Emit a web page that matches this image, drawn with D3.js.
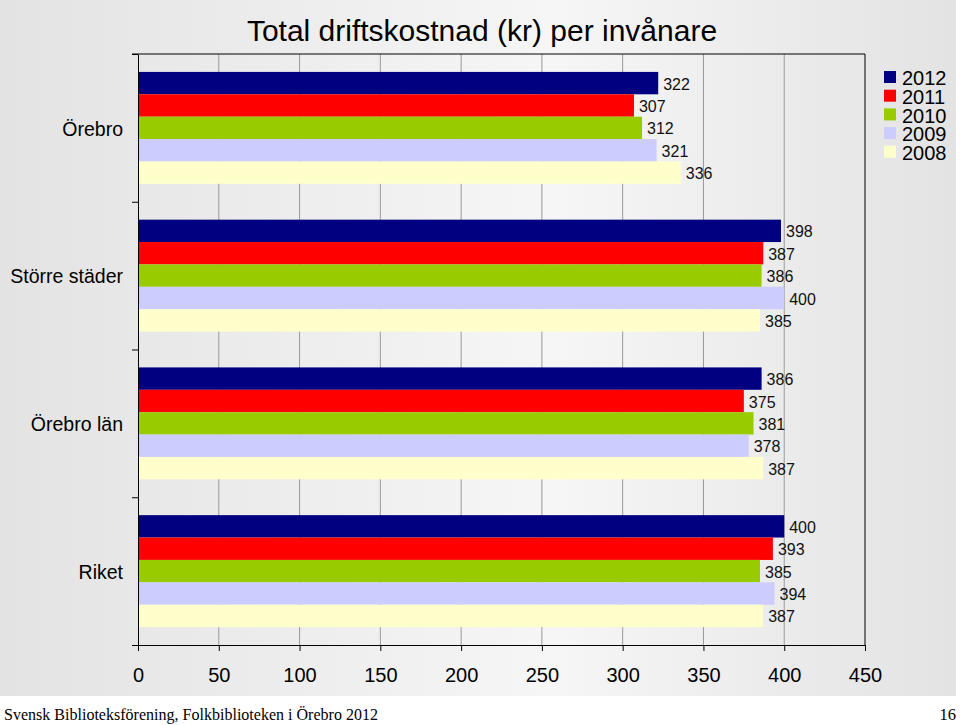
<!DOCTYPE html>
<html><head><meta charset="utf-8">
<script src="https://cdn.jsdelivr.net/npm/d3@7/dist/d3.min.js"></script>
<style>body{margin:0;padding:0;background:#fff;}svg{display:block;}</style>
</head><body><div id="chart"></div>
<script>
const categories = ["Örebro", "Större städer", "Örebro län", "Riket"];
const years = ["2012", "2011", "2010", "2009", "2008"];
const values2012 = [322, 398, 386, 400];
const values2011 = [307, 387, 375, 393];
const values2010 = [312, 386, 381, 385];
const values2009 = [321, 400, 378, 394];
const values2008 = [336, 385, 387, 387];
const xTicks = [0, 50, 100, 150, 200, 250, 300, 350, 400, 450];
const colors = ["#000080", "#ff0000", "#99cc00", "#ccccff", "#ffffcc"];
const title = "Total driftskostnad (kr) per invånare";
const footer = "Svensk Biblioteksförening, Folkbiblioteken i Örebro 2012";
const pageNo = "16";

const series = [values2012, values2011, values2010, values2009, values2008];
const W = 960, H = 725;
const svg = d3.select("#chart").append("svg").attr("width", W).attr("height", H);

const defs = svg.append("defs");
const g = defs.append("linearGradient").attr("id", "bg").attr("x1", "0").attr("x2", "1").attr("y1", "0").attr("y2", "0");
g.append("stop").attr("offset", "0%").attr("stop-color", "#e3e3e3");
g.append("stop").attr("offset", "58%").attr("stop-color", "#f6f6f6");
g.append("stop").attr("offset", "100%").attr("stop-color", "#e3e3e3");
svg.append("rect").attr("x", 0).attr("y", 0).attr("width", 956).attr("height", 696).attr("fill", "url(#bg)");

const pLeft = 138, pRight = 865, pTop = 54, pBottom = 645;
const x = d3.scaleLinear().domain([0, 450]).range([pLeft, pRight]);
const y0 = d3.scaleBand().domain(categories).range([pTop, pBottom]);
const y1 = d3.scaleBand().domain(years).range([0, y0.bandwidth()]).paddingOuter(0.8);

// gridlines
svg.append("g").selectAll("line").data(xTicks.slice(1, -1)).join("line")
  .attr("x1", d => x(d)).attr("x2", d => x(d)).attr("y1", pTop).attr("y2", pBottom)
  .attr("stroke", "#9a9a9a").attr("stroke-width", 1);

// bars
const groups = svg.append("g").selectAll("g").data(categories).join("g")
  .attr("transform", d => `translate(0,${y0(d)})`);
groups.each(function(cat, ci) {
  const sel = d3.select(this);
  years.forEach((yr, si) => {
    const v = series[si][ci];
    sel.append("rect").attr("x", x(0)).attr("y", y1(yr)).attr("width", x(v) - x(0))
      .attr("height", y1.bandwidth()).attr("fill", colors[si]);
    sel.append("text").attr("x", x(v) + 5).attr("y", y1(yr) + y1.bandwidth() / 2 + 1)
      .attr("dy", "0.35em").attr("font-family", "Liberation Sans, Arial, sans-serif")
      .attr("font-size", 16).attr("fill", "#111").text(v);
  });
});

// frame
svg.append("line").attr("x1", pLeft - 6).attr("x2", pRight).attr("y1", pTop).attr("y2", pTop).attr("stroke", "#000");
svg.append("line").attr("x1", pRight).attr("x2", pRight).attr("y1", pTop).attr("y2", pBottom).attr("stroke", "#000");

// x axis
const xAxis = svg.append("g").attr("transform", `translate(0,${pBottom})`)
  .call(d3.axisBottom(x).tickValues(xTicks).tickSize(6).tickPadding(17).tickSizeOuter(0));
xAxis.select(".domain").attr("stroke", "#000");
xAxis.selectAll("line").attr("stroke", "#000");
xAxis.selectAll("text").attr("font-family", "Liberation Sans, Arial, sans-serif").attr("font-size", 20).attr("fill", "#000");

// y axis with boundary ticks
const yb = d3.scaleLinear().domain([0, 4]).range([pTop, pBottom]);
const yAxis = svg.append("g").attr("transform", `translate(${pLeft},0)`)
  .call(d3.axisLeft(yb).tickValues([0, 1, 2, 3, 4]).tickSize(6).tickFormat("").tickSizeOuter(0));
yAxis.select(".domain").attr("stroke", "#000");
yAxis.selectAll("line").attr("stroke", "#000");

// category labels
svg.append("g").selectAll("text").data(categories).join("text")
  .attr("x", 123).attr("y", d => y0(d) + y0.bandwidth() / 2 + 1).attr("dy", "0.35em")
  .attr("text-anchor", "end").attr("font-family", "Liberation Sans, Arial, sans-serif")
  .attr("font-size", 19.5).attr("fill", "#000").text(d => d);

// title
svg.append("text").attr("x", 482).attr("y", 41).attr("text-anchor", "middle")
  .attr("font-family", "Liberation Sans, Arial, sans-serif").attr("font-size", 30).attr("fill", "#000").text(title);

// legend
const leg = svg.append("g").selectAll("g").data(years).join("g")
  .attr("transform", (d, i) => `translate(884,${77 + i * 18.7})`);
leg.append("rect").attr("x", 0).attr("y", -6).attr("width", 12).attr("height", 12).attr("fill", (d, i) => colors[i]);
leg.append("text").attr("x", 18).attr("y", 1).attr("dy", "0.36em")
  .attr("font-family", "Liberation Sans, Arial, sans-serif").attr("font-size", 20).attr("fill", "#000").text(d => d);

// footer
svg.append("text").attr("x", 4).attr("y", 720).attr("font-family", "Liberation Serif, Times New Roman, serif")
  .attr("font-size", 17).attr("textLength", 374).attr("lengthAdjust", "spacingAndGlyphs").attr("fill", "#000").text(footer);
svg.append("text").attr("x", 956).attr("y", 720).attr("text-anchor", "end").attr("font-family", "Liberation Serif, Times New Roman, serif")
  .attr("font-size", 16.5).attr("fill", "#000").text(pageNo);
</script></body></html>
